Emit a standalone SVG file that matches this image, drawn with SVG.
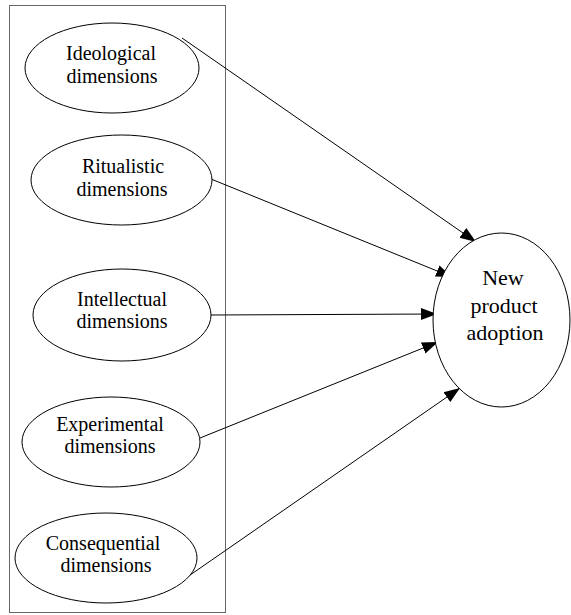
<svg xmlns="http://www.w3.org/2000/svg" width="571" height="615" viewBox="0 0 571 615">
<style>
.n{fill:#fff;stroke:#000;stroke-width:1}
text{font-family:'Liberation Serif','Times New Roman',serif;font-size:20px;fill:#000;text-anchor:middle}
.tb{font-size:22px}
.c{stroke:#000;stroke-width:1;fill:none;marker-end:url(#ah)}
</style>
<defs>
<marker id="ah" markerUnits="userSpaceOnUse" markerWidth="18" markerHeight="14" refX="16" refY="6" orient="auto" viewBox="0 0 18 12">
<polygon points="0,0 16,6 0,12" fill="#000"/>
</marker>
</defs>
<rect x="9.5" y="5.5" width="216" height="607" fill="#fff" stroke="#666" stroke-width="1"/>
<g id="connectors">
<line class="c" x1="182" y1="38" x2="476" y2="242"/>
<line class="c" x1="211" y1="179" x2="452" y2="277"/>
<line class="c" x1="211" y1="315" x2="437" y2="314"/>
<line class="c" x1="200" y1="438" x2="438" y2="342"/>
<line class="c" x1="180" y1="582" x2="460" y2="388"/>
</g>
<g id="ideological">
<ellipse class="n" cx="112" cy="68" rx="87" ry="45"/>
<text x="111" y="60">Ideological</text>
<text x="112" y="83">dimensions</text>
</g>
<g id="ritualistic">
<ellipse class="n" cx="121.5" cy="180" rx="90.5" ry="45"/>
<text x="123" y="173">Ritualistic</text>
<text x="122" y="196">dimensions</text>
</g>
<g id="intellectual">
<ellipse class="n" cx="122" cy="315" rx="89" ry="46"/>
<text x="122" y="306">Intellectual</text>
<text x="122" y="328">dimensions</text>
</g>
<g id="experimental">
<ellipse class="n" cx="111" cy="442" rx="89" ry="45"/>
<text x="110" y="431">Experimental</text>
<text x="110" y="453">dimensions</text>
</g>
<g id="consequential">
<ellipse class="n" cx="106" cy="558" rx="91" ry="45"/>
<text x="103" y="550">Consequential</text>
<text x="106" y="572">dimensions</text>
</g>
<g id="adoption">
<ellipse class="n" cx="501.5" cy="320" rx="68.5" ry="87"/>
<text class="tb" x="503" y="285">New</text>
<text class="tb" x="504" y="313">product</text>
<text class="tb" x="505" y="340">adoption</text>
</g>
</svg>
